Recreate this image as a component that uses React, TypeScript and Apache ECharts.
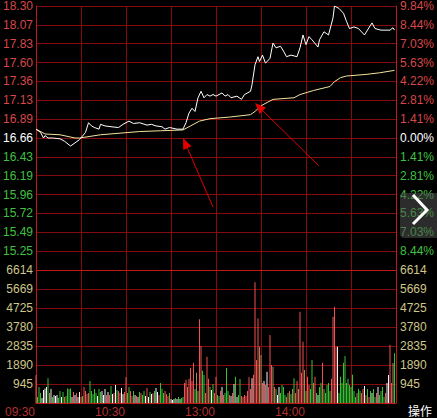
import React, { useEffect, useRef } from 'react';
import * as echarts from 'echarts';

const PREV_CLOSE = 16.66;
const LIMIT_UP = 18.3;
const PRICE_STEPS = 7;

const priceTimes = [
  0, 3, 5, 6, 8, 11, 16, 19, 23, 26, 29, 33, 35, 37, 39, 42, 43, 46, 50, 55,
  58, 62, 65, 69, 74, 77, 80, 84, 86, 89, 94, 98, 100, 102, 104, 106, 108, 110, 112, 114,
  116, 118, 120, 124, 126, 128, 130, 134, 137, 139, 143, 144, 146, 148, 149, 151, 153, 156, 158, 160,
  163, 165, 167, 170, 174, 176, 178, 180, 182, 184, 188, 189, 192, 195, 198, 199, 202, 205, 207, 209,
  212, 215, 219, 224, 226, 230, 236, 238, 239,
];
const priceValues = [
  16.77, 16.73, 16.66, 16.69, 16.66, 16.66, 16.65, 16.62, 16.56, 16.6, 16.64, 16.73, 16.85, 16.81, 16.79, 16.77, 16.83, 16.81, 16.8, 16.79,
  16.83, 16.87, 16.84, 16.85, 16.82, 16.83, 16.81, 16.8, 16.77, 16.79, 16.77, 16.77, 16.85, 16.97, 17.03, 16.99, 17.16, 17.24, 17.16, 17.2,
  17.18, 17.2, 17.18, 17.22, 17.18, 17.2, 17.16, 17.18, 17.14, 17.2, 17.24, 17.32, 17.57, 17.67, 17.61, 17.69, 17.59, 17.65, 17.84, 17.78,
  17.8, 17.74, 17.67, 17.69, 17.67, 17.78, 17.94, 17.82, 17.92, 17.88, 17.79, 17.88, 17.98, 17.94, 18.15, 18.3, 18.27, 18.21, 18.11, 18.02,
  18.04, 18.02, 17.94, 18.09, 18.02, 18.0, 18.0, 18.03, 18.0,
];

const avgTimes = [0, 6, 16, 26, 29, 43, 56, 69, 83, 98, 103, 109, 116, 129, 143, 146, 150, 158, 172, 176, 185, 196, 199, 203, 207, 220, 229, 239];
const avgValues = [
  16.77, 16.71, 16.7, 16.66, 16.66, 16.7, 16.72, 16.74, 16.75, 16.76, 16.81, 16.87, 16.9, 16.92, 16.95, 16.99, 17.06, 17.14,
  17.16, 17.2, 17.25, 17.3, 17.36, 17.41, 17.43, 17.45, 17.47, 17.5,
];

const volumes = [
  1390, 300, 800, 500, 250, 650, 720, 800, 1230, 500, 700, 300, 400, 350, 400, 250, 600, 300, 550, 300,
  350, 720, 700, 720, 300, 550, 400, 500, 300, 550, 300, 350, 800, 600, 450, 500, 1100, 600, 450, 700,
  500, 350, 700, 550, 600, 400, 700, 400, 550, 400, 850, 450, 500, 900, 650, 600, 500, 750, 450, 550,
  1290, 500, 800, 600, 350, 600, 400, 350, 300, 550, 500, 400, 600, 350, 750, 300, 550, 450, 500, 600,
  750, 550, 400, 1000, 700, 500, 600, 450, 350, 500, 200, 150, 200, 250, 200, 300, 200, 250, 300, 1000,
  1150, 800, 1200, 1750, 1100, 2000, 700, 1500, 600, 4170, 2830, 1600, 1390, 500, 2300, 1200, 800, 650, 950, 500,
  1300, 400, 350, 600, 800, 400, 500, 1740, 600, 400, 350, 500, 940, 1300, 300, 400, 1190, 350, 300, 400,
  350, 600, 1280, 700, 1230, 1400, 6010, 2140, 4200, 2800, 2390, 1000, 1100, 900, 1560, 800, 3380, 1890, 1800, 800,
  700, 400, 800, 500, 900, 800, 400, 300, 500, 600, 450, 700, 1230, 500, 1100, 700, 4540, 1500, 3050, 1640,
  600, 1300, 900, 700, 2140, 1000, 1300, 500, 400, 800, 1000, 2000, 700, 500, 900, 1000, 600, 1200, 4290, 4790,
  2800, 2800, 500, 1300, 1000, 2000, 2340, 1000, 1200, 900, 800, 1400, 600, 300, 500, 700, 600, 500, 700, 850,
  400, 700, 300, 600, 500, 700, 300, 500, 800, 400, 600, 800, 300, 500, 1000, 1390, 2880, 1000, 1990, 2480,
];
// r = up, g = down, w = flat, o = mixed
const volumeDirs =
  'rgggwwwwgowgwwwggwgr' +
  'ggggwrwrwwrgrrrrgggg' +
  'gwggwwwrwrgwrwgrrwwr' +
  'rggrrgwrwgrggwrwgwrg' +
  'wwrgggrrrgwwwgwgwggr' +
  'rrrrrrgogrrggrrrgwgr' +
  'rggrwrgggrwrwgwggrrr' +
  'rrrrwrrrroorwrwrrror' +
  'gwwggggrgrgogrrorrro' +
  'grrggorgwggrgggggrrr' +
  'rwggggggggggggoggrrw' +
  'rgrgwggrwggggrwwrrog';

const volumeTicks = [0, 945, 1890, 2835, 3780, 4725, 5669, 6614];
const timeTicks = [0, 60, 120, 180];
const timeLabels = ['09:30', '10:30', '13:00', '14:00'];

const RED = '#d84848';
const GREEN = '#40c040';
const WHITE = '#ffffff';
const GRID = '#850c0c';
const EDGE = '#c01818';
const VOL_LABEL = '#cfc68a';
const TIME_LABEL = '#b03030';
const FONT = '"Liberation Sans", Arial, sans-serif';
const BAR_COLORS: Record<string, string> = { r: '#ee5252', g: '#34c234', w: '#f2f2f2', o: '#a68a52' };

function arrowShapes(from: number[], tip: number[]) {
  const dx = tip[0] - from[0];
  const dy = tip[1] - from[1];
  const len = Math.sqrt(dx * dx + dy * dy);
  const ux = dx / len;
  const uy = dy / len;
  const hl = 11;
  const hw = 4.5;
  const bx = tip[0] - ux * hl;
  const by = tip[1] - uy * hl;
  return [
    {
      type: 'line',
      z: 100,
      shape: { x1: from[0], y1: from[1], x2: bx, y2: by },
      style: { stroke: '#e00000', lineWidth: 1 },
    },
    {
      type: 'polygon',
      z: 100,
      shape: {
        points: [
          [tip[0], tip[1]],
          [bx - uy * hw, by + ux * hw],
          [bx + uy * hw, by - ux * hw],
        ],
      },
      style: { fill: '#e00000' },
    },
  ];
}

export default function App() {
  const ref = useRef<HTMLDivElement>(null);
  useEffect(() => {
    const chart = echarts.init(ref.current!, null, { renderer: 'svg' });
    const step = (LIMIT_UP - PREV_CLOSE) / PRICE_STEPS;
    const pMin = PREV_CLOSE - PRICE_STEPS * step;
    const pMax = PREV_CLOSE + PRICE_STEPS * step;
    const priceTicks: number[] = [];
    for (let i = -PRICE_STEPS; i <= PRICE_STEPS; i++) priceTicks.push(PREV_CLOSE + i * step);
    const priceLabelTicks = priceTicks.slice(1);
    const labelColor = (v: any) => {
      const d = Number(v) - PREV_CLOSE;
      return d > 1e-6 ? RED : d < -1e-6 ? GREEN : WHITE;
    };

    const xBase = {
      type: 'value',
      min: 0,
      max: 240,
      interval: 30,
      axisTick: { show: false },
      splitLine: { show: true, lineStyle: { color: GRID, width: 1 } },
    };

    const option: any = {
      animation: false,
      backgroundColor: '#000000',
      grid: [
        { left: 36, right: 41, top: 5, height: 265 },
        { left: 36, right: 41, top: 270, height: 133 },
      ],
      xAxis: [
        {
          ...xBase,
          gridIndex: 0,
          axisLabel: { show: false },
          axisLine: { show: true, lineStyle: { color: EDGE, width: 1 } },
        },
        {
          ...xBase,
          gridIndex: 1,
          axisLine: { show: true, lineStyle: { color: EDGE, width: 1 } },
          axisLabel: {
            show: true,
            customValues: timeTicks,
            formatter: (v: number) => {
              const idx = timeTicks.indexOf(Math.round(v));
              return idx >= 0 ? timeLabels[idx] : '';
            },
            align: 'right',
            margin: 3,
            padding: [0, 1, 0, 0],
            color: TIME_LABEL,
            fontSize: 12,
            fontFamily: FONT,
          },
        },
      ],
      yAxis: [
        {
          type: 'value',
          gridIndex: 0,
          position: 'left',
          min: pMin,
          max: pMax,
          axisTick: { show: false, customValues: priceTicks },
          axisLine: { show: true, lineStyle: { color: EDGE } },
          splitLine: { show: true, lineStyle: { color: GRID, width: 1 } },
          axisLabel: {
            customValues: priceLabelTicks,
            formatter: (v: number) => v.toFixed(2),
            color: labelColor,
            margin: 3,
            fontSize: 12,
            fontFamily: FONT,
          },
        },
        {
          type: 'value',
          gridIndex: 0,
          position: 'right',
          min: pMin,
          max: pMax,
          axisTick: { show: false, customValues: priceTicks },
          axisLine: { show: true, lineStyle: { color: EDGE } },
          splitLine: { show: false },
          axisLabel: {
            customValues: priceLabelTicks,
            formatter: (v: number) => ((Math.abs(v - PREV_CLOSE) / PREV_CLOSE) * 100).toFixed(2) + '%',
            color: labelColor,
            margin: 4,
            fontSize: 12,
            fontFamily: FONT,
          },
        },
        {
          type: 'value',
          gridIndex: 1,
          position: 'left',
          min: 0,
          max: volumeTicks[volumeTicks.length - 1],
          axisTick: { show: false, customValues: volumeTicks },
          axisLine: { show: true, lineStyle: { color: EDGE } },
          splitLine: { show: true, lineStyle: { color: GRID, width: 1 } },
          axisLabel: {
            customValues: volumeTicks.slice(1),
            formatter: (v: number) => String(Math.round(v)),
            color: VOL_LABEL,
            margin: 3,
            fontSize: 12,
            fontFamily: FONT,
          },
        },
        {
          type: 'value',
          gridIndex: 1,
          position: 'right',
          min: 0,
          max: volumeTicks[volumeTicks.length - 1],
          axisTick: { show: false, customValues: volumeTicks },
          axisLine: { show: true, lineStyle: { color: EDGE } },
          splitLine: { show: false },
          axisLabel: {
            customValues: volumeTicks.slice(1),
            formatter: (v: number) => String(Math.round(v)),
            color: VOL_LABEL,
            margin: 4,
            fontSize: 12,
            fontFamily: FONT,
          },
        },
      ],
      series: [
        {
          type: 'line',
          xAxisIndex: 0,
          yAxisIndex: 0,
          data: avgTimes.map((t, i) => [t, avgValues[i]]),
          symbol: 'none',
          lineStyle: { color: '#f2e49c', width: 1 },
          z: 3,
        },
        {
          type: 'line',
          xAxisIndex: 0,
          yAxisIndex: 0,
          data: priceTimes.map((t, i) => [t, priceValues[i]]),
          symbol: 'none',
          lineStyle: { color: '#ffffff', width: 1 },
          z: 4,
        },
        {
          type: 'bar',
          xAxisIndex: 1,
          yAxisIndex: 2,
          barWidth: 1,
          data: volumes.map((v, i) => ({
            value: [i, v],
            itemStyle: { color: BAR_COLORS[volumeDirs[i]] || BAR_COLORS.w },
          })),
        },
      ],
      graphic: [
        ...arrowShapes([213, 207], [183, 138]),
        ...arrowShapes([319, 166], [255, 103]),
        {
          type: 'rect',
          z: 100,
          shape: { x: 400, y: 193, width: 42, height: 45, r: 4 },
          style: { fill: 'rgba(80,80,80,0.55)' },
        },
        {
          type: 'polyline',
          z: 101,
          shape: { points: [[413, 195], [427, 210], [413, 224]] },
          style: { stroke: '#ffffff', lineWidth: 3, fill: 'none' },
        },
        {
          type: 'text',
          z: 101,
          style: {
            text: '操作',
            x: 408,
            y: 404,
            fill: '#ffffff',
            fontSize: 12,
            fontFamily: '"Noto Sans CJK SC", sans-serif',
          },
        },
      ],
    };
    chart.setOption(option);
    return () => chart.dispose();
  }, []);
  return <div ref={ref} style={{ position: 'fixed', left: 0, top: 0, width: 437, height: 418 }} />;
}
